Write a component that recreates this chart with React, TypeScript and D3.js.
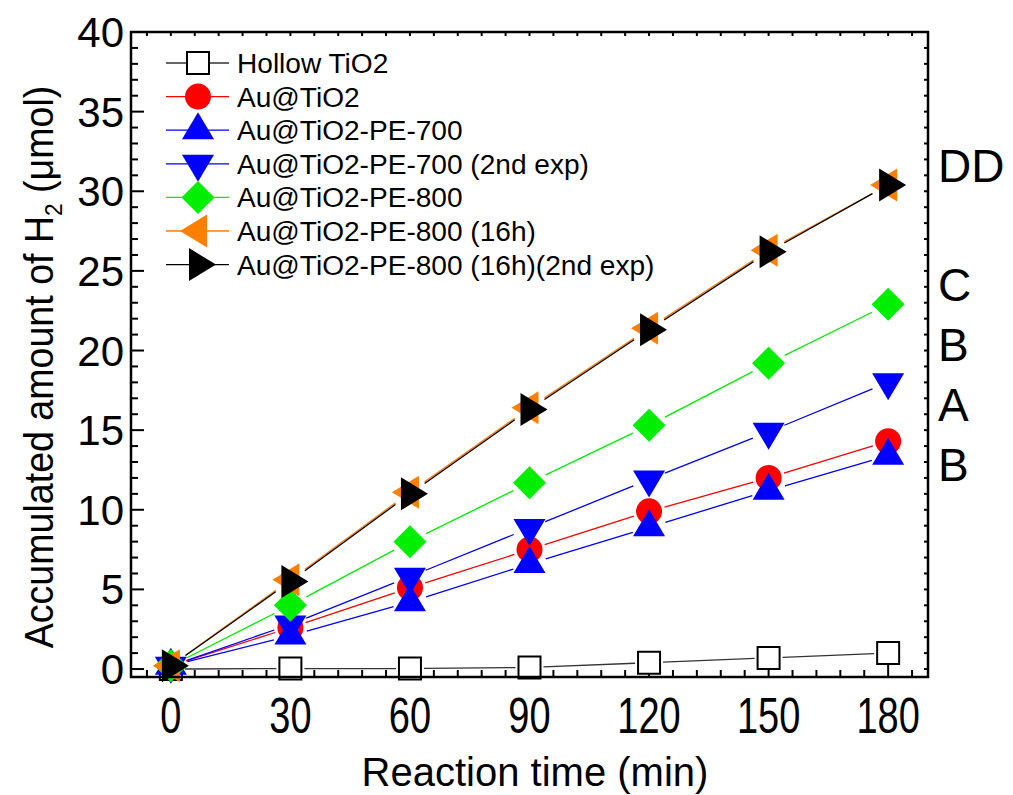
import * as d3 from "d3";
import { useEffect } from "react";

// reaction time (min)
const times = [0, 30, 60, 90, 120, 150, 180];

// accumulated H2 (umol)
const hollowTiO2 = [0.0, 0.03, 0.03, 0.1, 0.4, 0.7, 1.0];
const auTiO2 = [0.2, 2.6, 5.1, 7.5, 9.9, 12.0, 14.3];
const pe700 = [0.2, 2.1, 4.2, 6.6, 8.9, 11.2, 13.4];
const pe700b = [0.2, 2.8, 5.8, 8.85, 11.9, 14.9, 18.0];
const pe800 = [0.2, 4.0, 8.0, 11.7, 15.3, 19.2, 22.9];
const pe800h16 = [0.2, 5.6, 11.1, 16.4, 21.4, 26.3, 30.4];
const pe800h16b = [0.2, 5.5, 11.0, 16.3, 21.3, 26.2, 30.4];

const seriesNames = [
  "Hollow TiO2",
  "Au@TiO2",
  "Au@TiO2-PE-700",
  "Au@TiO2-PE-700 (2nd exp)",
  "Au@TiO2-PE-800",
  "Au@TiO2-PE-800 (16h)",
  "Au@TiO2-PE-800 (16h)(2nd exp)",
];

const xTicks = [0, 30, 60, 90, 120, 150, 180];
const yTicks = [0, 5, 10, 15, 20, 25, 30, 35, 40];
// letters at the right of the frame, placed on the y scale
const sideLabels = [
  { text: "DD", v: 31.6 },
  { text: "C", v: 24.1 },
  { text: "B", v: 20.35 },
  { text: "A", v: 16.6 },
  { text: "B", v: 12.8 },
];

type Marker = "square" | "circle" | "up" | "down" | "diamond" | "left" | "right";

const markerPath = (m: Marker) => {
  switch (m) {
    case "square":
      return "M-11,-11h22v22h-22Z";
    case "circle":
      return "M13,0A13,13 0 1 1 -13,0A13,13 0 1 1 13,0Z";
    case "up":
      return "M0,-18L16,9L-16,9Z";
    case "down":
      return "M0,18L16,-9L-16,-9Z";
    case "diamond":
      return "M0,-16.5L16.5,0L0,16.5L-16.5,0Z";
    case "left":
      return "M-18,0L9,-16.5L9,16.5Z";
    case "right":
      return "M18,0L-9,-16.5L-9,16.5Z";
  }
};

const FONT = "'Liberation Sans', Arial, Helvetica, sans-serif";

export default function App() {
  useEffect(() => {
    document.body.style.margin = "0";
  }, []);

  const width = 1013;
  const height = 795;
  const frame = { left: 131, top: 32, right: 928, bottom: 677 };

  const x = d3.scaleLinear().domain([-10, 190]).range([frame.left, frame.right]);
  const y = d3.scaleLinear().domain([-0.5, 40]).range([frame.bottom, frame.top]);

  const series = [
    { name: seriesNames[0], values: hollowTiO2, color: "#000", line: "#333", marker: "square" as Marker, gap: 14 },
    { name: seriesNames[1], values: auTiO2, color: "#ff0000", line: "#ff0000", marker: "circle" as Marker, gap: 16 },
    { name: seriesNames[2], values: pe700, color: "#0000ff", line: "#0000ff", marker: "up" as Marker, gap: 17 },
    { name: seriesNames[3], values: pe700b, color: "#0000ff", line: "#0000ff", marker: "down" as Marker, gap: 17 },
    { name: seriesNames[4], values: pe800, color: "#00ee00", line: "#00ee00", marker: "diamond" as Marker, gap: 18 },
    { name: seriesNames[5], values: pe800h16, color: "#ff8000", line: "#ff8000", marker: "left" as Marker, gap: 18 },
    { name: seriesNames[6], values: pe800h16b, color: "#000", line: "#000", marker: "right" as Marker, gap: 18 },
  ];

  const segs = (vals: number[], gap: number) =>
    vals.slice(1).map((v, i) => {
      const x0 = x(times[i]), y0 = y(vals[i]);
      const x1 = x(times[i + 1]), y1 = y(v);
      const len = Math.hypot(x1 - x0, y1 - y0);
      const ux = (x1 - x0) / len, uy = (y1 - y0) / len;
      return { x1: x0 + ux * gap, y1: y0 + uy * gap, x2: x1 - ux * gap, y2: y1 - uy * gap };
    });

  const xMinor = d3.range(-6, 187, 6);
  const yMinor = d3.range(0, 41, 1);

  return (
    <svg width={width} height={height} style={{ position: "absolute", left: 0, top: 0 }} fontFamily={FONT}>
      <rect width={width} height={height} fill="#fff" />

      {/* ticks */}
      <g stroke="#000" strokeWidth={2}>
        {xMinor.map((t) => (
          <g key={"xm" + t}>
            <line x1={x(t)} x2={x(t)} y1={frame.bottom} y2={frame.bottom - (t % 30 === 0 ? 13 : 7)} />
            <line x1={x(t)} x2={x(t)} y1={frame.top} y2={frame.top + 4} />
          </g>
        ))}
        {yMinor.map((t) => (
          <g key={"ym" + t}>
            <line x1={frame.left} x2={frame.left + (t % 5 === 0 ? 13 : 7)} y1={y(t)} y2={y(t)} />
            <line x1={frame.right} x2={frame.right - 4} y1={y(t)} y2={y(t)} />
          </g>
        ))}
      </g>

      {/* lines with gaps around markers */}
      {series.map((s) => (
        <g key={"l" + s.name} stroke={s.line} strokeWidth={1.3}>
          {segs(s.values, s.gap).map((g, i) => (
            <line key={i} {...g} />
          ))}
        </g>
      ))}

      {/* markers */}
      {series.map((s) => (
        <g key={"m" + s.name}>
          {s.values.map((v, i) => (
            <path
              key={i}
              d={markerPath(s.marker)}
              transform={`translate(${x(times[i])},${y(v)})`}
              fill={s.marker === "square" ? "#fff" : s.color}
              stroke={s.marker === "square" ? "#000" : "none"}
              strokeWidth={2}
            />
          ))}
        </g>
      ))}

      <rect
        x={frame.left}
        y={frame.top}
        width={frame.right - frame.left}
        height={frame.bottom - frame.top}
        fill="none"
        stroke="#000"
        strokeWidth={2.5}
      />

      {/* tick labels */}
      {yTicks.map((t) => (
        <text key={"yl" + t} x={124} y={y(t) + 15} fontSize={42} textAnchor="end">
          {t}
        </text>
      ))}
      {xTicks.map((t) => (
        <text
          key={"xl" + t}
          transform={`translate(${x(t)},733) scale(0.76,1)`}
          fontSize={50}
          textAnchor="middle"
        >
          {t}
        </text>
      ))}

      {/* axis titles */}
      <text x={535} y={786} fontSize={40} textAnchor="middle">
        Reaction time (min)
      </text>
      <text transform="translate(53,367) rotate(-90) scale(0.94,1)" fontSize={40} textAnchor="middle">
        Accumulated amount of H
        <tspan fontSize={24} dy={9}>2</tspan>
        <tspan dy={-9}> (μmol)</tspan>
      </text>

      {/* legend */}
      {series.map((s, i) => {
        const ly = 63 + i * 33.6;
        return (
          <g key={"lg" + s.name}>
            <line x1={166} x2={229} y1={ly} y2={ly} stroke={s.line} strokeWidth={1.3} />
            <path
              d={markerPath(s.marker)}
              transform={`translate(198,${ly})`}
              fill={s.marker === "square" ? "#fff" : s.color}
              stroke={s.marker === "square" ? "#000" : "none"}
              strokeWidth={2}
            />
            <text transform={`translate(237,${ly + 10}) scale(1.04,1)`} fontSize={27}>
              {s.name}
            </text>
          </g>
        );
      })}

      {/* group letters */}
      {sideLabels.map((l, i) => (
        <text key={"sl" + i} x={938} y={y(l.v) + 16} fontSize={46}>
          {l.text}
        </text>
      ))}
    </svg>
  );
}
